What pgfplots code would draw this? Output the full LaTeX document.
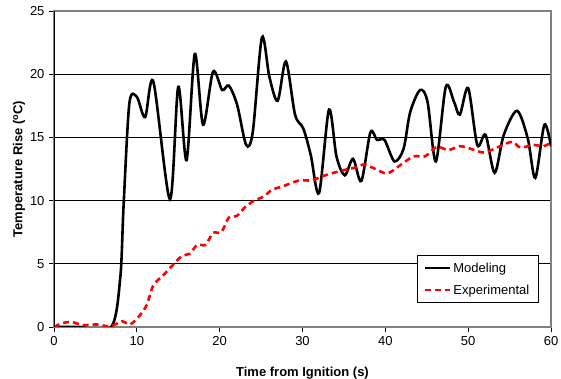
\documentclass[border=0pt]{standalone}
\usepackage{pgfplots}
\pgfplotsset{compat=1.18}
\usepackage{fontspec}
\setmainfont{Liberation Sans}

\definecolor{expred}{RGB}{255,0,0}
\definecolor{framegray}{RGB}{128,128,128}

\begin{document}
\begin{tikzpicture}[x=1pt,y=1pt]
\useasboundingbox (-54pt,-52pt) rectangle (507pt,327pt);
\begin{axis}[
  at={(0pt,0pt)}, anchor=south west,
  scale only axis,
  width=497pt, height=316pt,
  xmin=0, xmax=60, ymin=0, ymax=25,
  xtick={0,10,...,60}, ytick={0,5,...,25},
  xtick pos=bottom, ytick pos=left,
  tick align=outside, major tick length=5pt,
  tick style={black, line width=0.8pt},
  axis line style={framegray, line width=1.2pt},
  ymajorgrids, major grid style={black, line width=0.8pt},
  /pgf/number format/assume math mode=true,
  tick label style={font=\fontsize{13}{15}\selectfont},
  xticklabel style={yshift=-1pt},
  yticklabel style={xshift=-1pt},
  label style={font=\fontsize{13}{15}\selectfont\bfseries},
  xlabel={Time from Ignition (s)},
  ylabel={Temperature Rise (\textsuperscript{o}C)},
  xlabel style={at={(rel axis cs:0.5,0)}, anchor=center, yshift=-46pt},
  ylabel style={at={(rel axis cs:0,0.5)}, anchor=center, rotate=0, yshift=35pt},
  legend style={at={(rel axis cs:0.730,0.076)}, anchor=south west,
    draw=black, line width=0.8pt, fill=white,
    font=\fontsize{13}{15}\selectfont, inner xsep=7pt, inner ysep=5pt,
    row sep=7pt},
  legend cell align=left,
  legend image code/.code={\draw[#1, line width=2.2pt] (0pt,0pt) -- (25pt,0pt);},
  clip=true,
]
% simulated temperature rise
\addplot[black, line width=2.6pt, smooth, tension=0.5] coordinates {
 (0,0) (3,0) (6.9,0) (8,3.9) (8.4,9.6) (9.1,17.7) (10,18.2) (11,16.6)
 (12,19.4) (14,10.1) (15,19.0) (16,13.2) (17,21.6) (18,16.0) (19.2,20.2)
 (20.3,18.75) (21.1,19.1) (22.1,17.6) (23.2,14.4) (24,15.45) (25.1,22.9)
 (26,19.8) (27,17.9) (28,21.0) (29.1,16.8) (30.1,15.7) (31,13.6) (32,10.6)
 (33.2,17.2) (34.1,13.5) (35.1,12.0) (36.1,13.3) (37.1,11.55) (38.2,15.4)
 (39,14.8) (39.9,14.8) (41.1,13.1) (42.2,14.1) (43,17.0) (44.2,18.75)
 (45.1,17.8) (46.1,13.1) (47.3,19.0) (48.3,17.8) (49,16.8) (50,18.9)
 (51.1,14.4) (52.1,15.2) (53.2,12.2) (54.3,15.2) (55.9,17.1) (57.2,14.9)
 (58.1,11.8) (59.2,16.0) (60,14.3)
};
\addlegendentry{Modeling}
% measured temperature rise
\addplot[expred, line width=2.6pt, dash pattern=on 6pt off 4pt, smooth, tension=0.5] coordinates {
 (0,0) (1,0.3) (2.1,0.4) (3.5,0.15) (5.2,0.2) (6.8,0.05) (8.2,0.45) (9.2,0.2)
 (10.4,0.95) (11.2,1.75) (12,3.3) (13.2,4.1) (14.2,4.8) (15.4,5.6) (16.4,5.8)
 (17.3,6.5) (18.3,6.5) (19.2,7.45) (20.2,7.5) (21.1,8.65) (22.1,8.8) (23.1,9.5)
 (24.3,10.05) (25.3,10.3) (26.3,10.85) (27.5,11.1) (28.5,11.35) (29.7,11.6)
 (31.1,11.6) (32.3,11.9) (33.5,12.15) (34.9,12.4) (36.3,12.6) (37.3,12.85)
 (38.5,12.6) (40.2,12.15) (41.8,12.8) (43.4,13.5) (44.8,13.5) (46.2,14.25)
 (47.6,14.0) (49,14.3) (50.3,14.1) (51.9,13.8) (53.5,14.2) (55.3,14.65)
 (56.3,14.2) (57.9,14.4) (59.1,14.3) (60,14.6)
};
\addlegendentry{Experimental}
% left and bottom axis lines in black
\draw[black, line width=0.8pt] (rel axis cs:0,0) -- (rel axis cs:0,1);
\draw[black, line width=0.8pt] (rel axis cs:0,0) -- (rel axis cs:1,0);
\end{axis}
\end{tikzpicture}
\end{document}
